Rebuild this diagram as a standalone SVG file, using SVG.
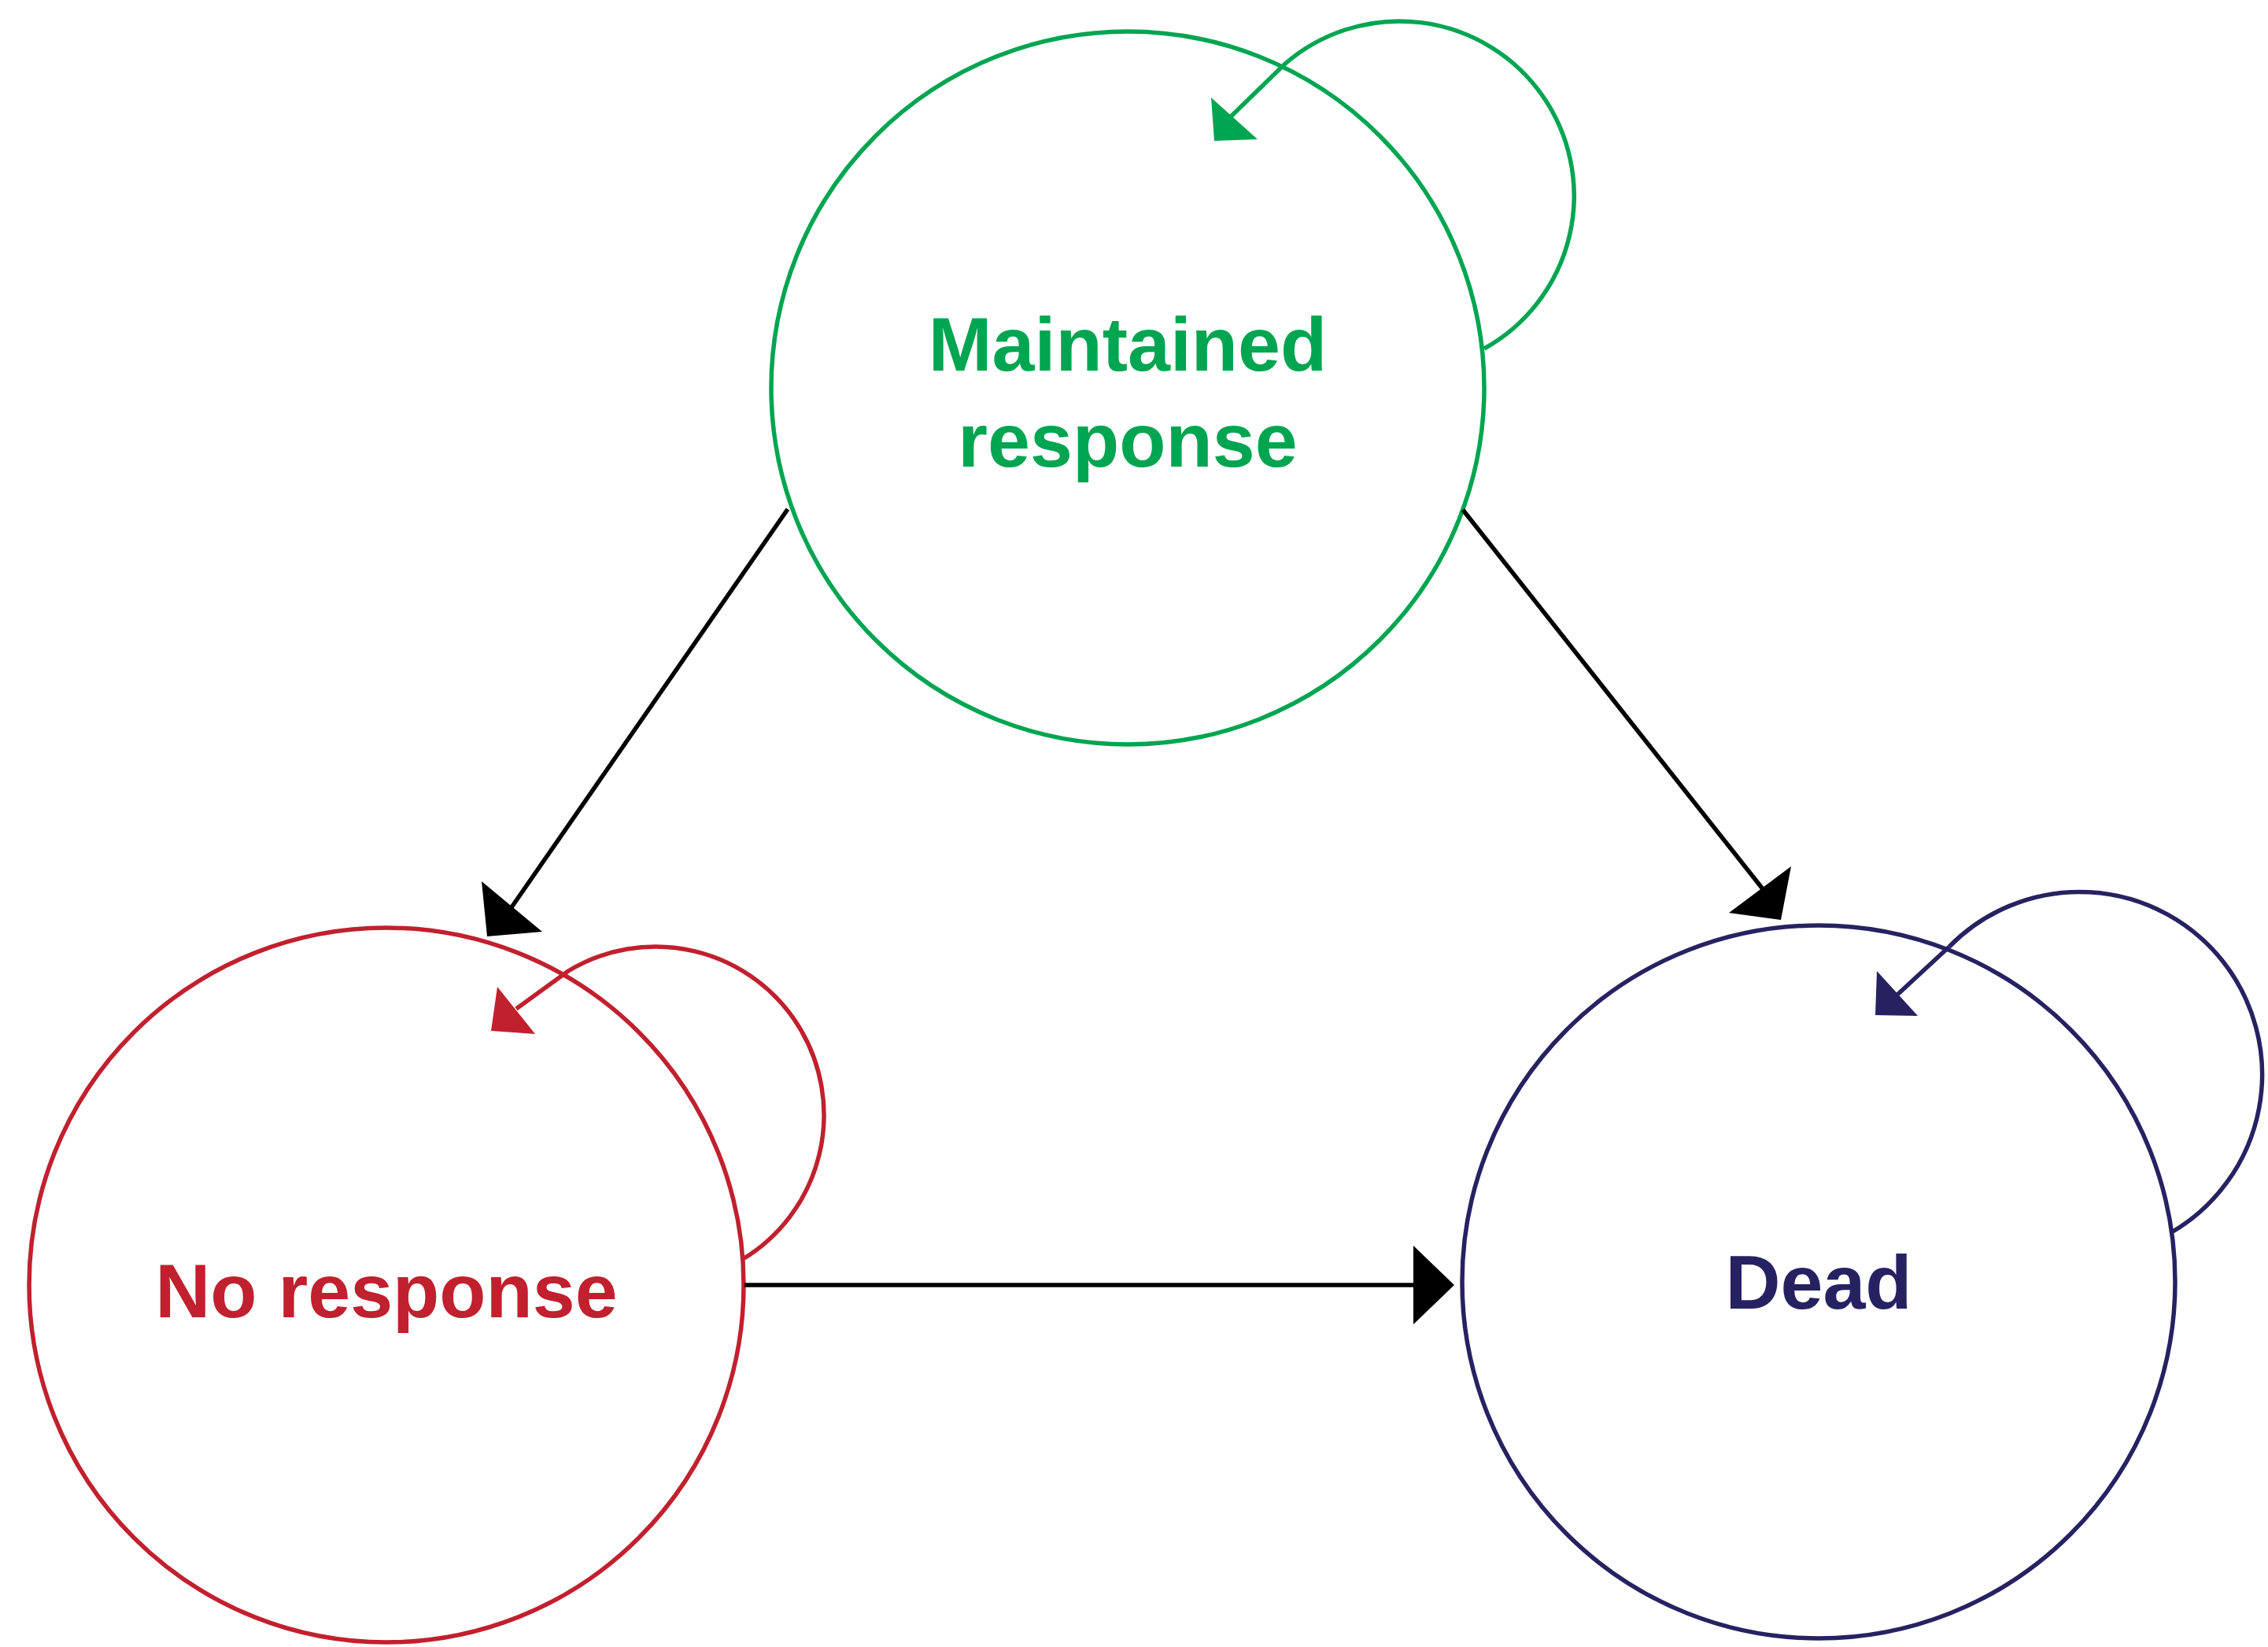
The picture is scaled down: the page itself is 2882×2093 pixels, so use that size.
<svg xmlns="http://www.w3.org/2000/svg" width="2882" height="2093" viewBox="0 0 2882 2093">
<style>
.n{fill:none;stroke-width:5.5}
.t{font-family:"Liberation Sans",Arial,sans-serif;font-weight:bold;font-size:97px;text-anchor:middle}
.c{fill:none;stroke-width:5.5}
</style>
<rect width="2882" height="2093" fill="#fff"/>
<g id="maintained">
<circle class="n" cx="1433" cy="493" r="453" stroke="#00a551"/>
<text class="t" x="1433" y="471" fill="#00a551">Maintained</text>
<text class="t" x="1433" y="593" fill="#00a551">response</text>
</g>
<g id="noresponse">
<circle class="n" cx="491" cy="1633" r="454" stroke="#c1202e"/>
<text class="t" x="491" y="1674" fill="#c1202e">No response</text>
</g>
<g id="dead">
<circle class="n" cx="2311" cy="1629" r="453" stroke="#262262"/>
<text class="t" x="2311" y="1663" fill="#262262">Dead</text>
</g>
<g id="connectors">
<path class="c" stroke="#00a551" d="M1886,443 A222,222 0 1 0 1633,81 L1560,152"/>
<polygon fill="#00a551" points="1539,124 1543,179 1598,177"/>
<path class="c" stroke="#c1202e" d="M944,1600 A213,213 0 1 0 722,1234 L656,1282"/>
<polygon fill="#c1202e" points="632,1254 624,1310 680,1314"/>
<path class="c" stroke="#262262" d="M2477,1203 A232,232 0 1 1 2761,1565"/>
<path class="c" stroke="#262262" d="M2477,1203 L2411,1264"/>
<polygon fill="#262262" points="2385,1234 2383,1290 2437,1291"/>
<path class="c" stroke="#000" d="M1001,647 L650,1153"/>
<polygon fill="#000" points="612,1120 619,1190 689,1184"/>
<path class="c" stroke="#000" d="M1859,648 L2241,1131"/>
<polygon fill="#000" points="2197,1160 2263,1169 2276,1101"/>
<path class="c" stroke="#000" d="M946,1633 L1801,1633"/>
<polygon fill="#000" points="1796,1583 1848,1633 1796,1683"/>
</g>
</svg>
